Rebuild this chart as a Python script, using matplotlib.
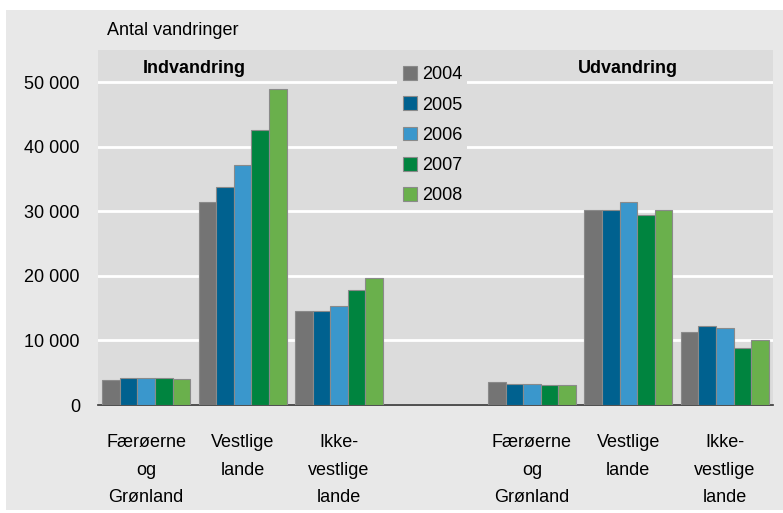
import numpy as np
import matplotlib
matplotlib.use("Agg")
from matplotlib import pyplot as plt
from matplotlib.patches import Rectangle
from matplotlib.ticker import FuncFormatter

plt.rcParams['font.family'] = ['Liberation Sans', 'DejaVu Sans']

years = ['2004', '2005', '2006', '2007', '2008']
colors = ['#747474', '#00618f', '#3a97cc', '#00843f', '#6ab04c']
groups = ['Færøerne\nog\nGrønland', 'Vestlige\nlande', 'Ikke-\nvestlige\nlande']

# rows = years, cols = Færøerne/Grønland, Vestlige, Ikke-vestlige
indvandring = np.array([
    [3860, 31500, 14600],
    [4120, 33700, 14600],
    [4120, 37200, 15350],
    [4150, 42600, 17800],
    [4020, 49000, 19600],
])
udvandring = np.array([
    [3550, 30250, 11330],
    [3200, 30250, 12250],
    [3300, 31400, 12000],
    [3100, 29500, 8900],
    [3150, 30250, 10000],
])

fig = plt.figure(figsize=(7.83, 5.13), dpi=100)
fig.patch.set_facecolor('white')
fig.patches.append(Rectangle((6/783, 3/513), 777/783, 500/513, transform=fig.transFigure,
                             facecolor='#e8e8e8', edgecolor='none', zorder=-10))

ax = fig.add_axes([98/783, 108/513, 675/783, 355/513])
ax.set_facecolor('#dcdcdc')

pos_in = np.array([0, 1, 2])
pos_out = np.array([4, 5, 6])
w = 0.182
for i, yr in enumerate(years):
    off = (i - 2) * w
    ax.bar(pos_in + off, indvandring[i], width=w, color=colors[i], edgecolor='#8a8a8a',
           linewidth=0.8, label=yr, zorder=3)
    ax.bar(pos_out + off, udvandring[i], width=w, color=colors[i], edgecolor='#8a8a8a',
           linewidth=0.8, zorder=3)

ax.set_xlim(-0.5, 6.5)
ax.set_ylim(0, 55000)
ax.set_yticks(np.arange(0, 50001, 10000))
ax.yaxis.set_major_formatter(FuncFormatter(lambda v, p: f'{int(v):,}'.replace(',', ' ')))
ax.yaxis.grid(True, color='white', linewidth=2)
ax.set_axisbelow(True)

ax.set_xticks(list(pos_in) + list(pos_out))
ax.set_xticklabels(groups + groups, linespacing=1.8)
ax.tick_params(axis='x', length=0, pad=21, labelsize=13)
ax.tick_params(axis='y', length=0, pad=13, labelsize=13)

for s in ['top', 'right', 'left']:
    ax.spines[s].set_visible(False)
ax.spines['bottom'].set_color('#333333')
ax.spines['bottom'].set_linewidth(1.2)

ax.text(0.5, 52100, 'Indvandring', ha='center', va='center', fontsize=13, fontweight='bold')
ax.text(5, 52100, 'Udvandring', ha='center', va='center', fontsize=13, fontweight='bold')
fig.text(107/783, 1 - 31/513, 'Antal vandringer', ha='left', va='center', fontsize=13)

leg = ax.legend(loc='upper left', bbox_to_anchor=(0.43, 0.995), fontsize=13, frameon=True,
                handlelength=0.8, handleheight=0.8, handletextpad=0.25, labelspacing=0.72,
                borderpad=0.3)
leg.get_frame().set_facecolor('#dcdcdc')
leg.get_frame().set_edgecolor('none')
leg.get_frame().set_alpha(1)

fig.savefig('out.png', dpi=100)
